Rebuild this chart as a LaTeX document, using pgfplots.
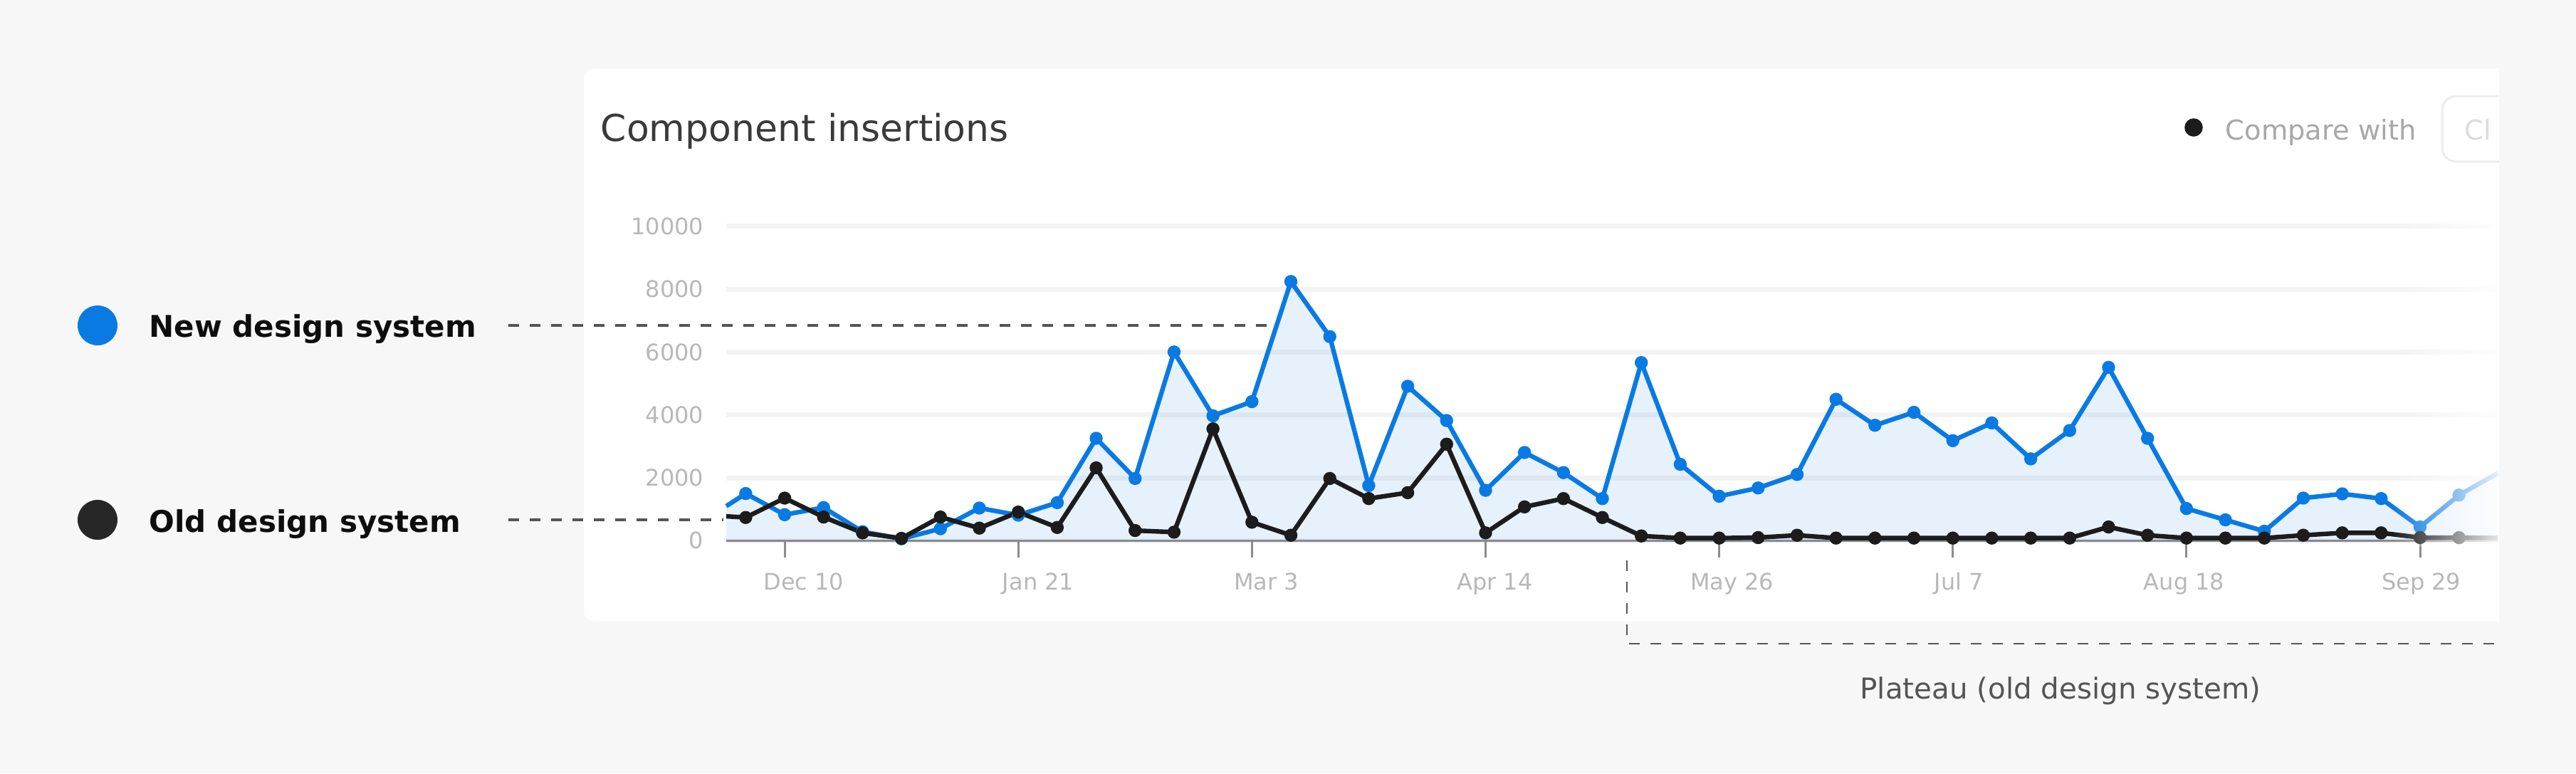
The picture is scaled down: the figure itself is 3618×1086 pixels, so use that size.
\documentclass[border=0pt]{standalone}
\usepackage{fontspec}
\setmainfont{DejaVu Sans}
\usepackage{pgfplots}
\pgfplotsset{compat=1.18}
\usepackage{pgfplotstable}
\usetikzlibrary{fadings}
\definecolor{bg}{HTML}{F7F7F7}
\definecolor{blueC}{HTML}{0A7AE3}
\definecolor{blackC}{HTML}{1C1C1C}
\definecolor{gridC}{HTML}{F3F3F3}
\definecolor{axisC}{HTML}{8C8C8C}
\definecolor{tickC}{HTML}{B8B8B8}
\definecolor{dashC}{HTML}{555555}
\definecolor{titleC}{HTML}{3A3A3A}
\definecolor{cmpC}{HTML}{A8A8A8}
\definecolor{btnC}{HTML}{EDEDED}
\definecolor{btnTextC}{HTML}{DCDCDC}
\tikzfading[name=fadeR, left color=transparent!100, right color=transparent!10]

% k = weeks after Dec 10; new / old design system insertions
\pgfplotstableread{
k new old
-1.5 1098 775
-1 1500 737
0 827 1354
1 1053 752
2 286 248
3 60 75
4 380 752
5 1038 399
6 812 910
7 1210 420
8 3256 2316
9 1978 323
10 6001 271
11 3971 3557
12 4422 587
13 8242 173
14 6490 1978
15 1752 1339
16 4911 1527
17 3820 3068
18 1602 248
19 2805 1075
20 2166 1339
21 1339 737
22 5663 150
23 2429 83
24 1414 83
25 1677 98
26 2106 173
27 4497 83
28 3670 83
29 4083 83
30 3181 83
31 3745 83
32 2602 83
33 3504 83
34 5512 436
35 3256 173
36 1023 83
37 662 83
38 301 83
39 1354 173
40 1489 248
41 1339 248
42 436 98
43 1450 97
44 2150 90
}\insdata

\begin{document}
\begin{tikzpicture}[x=0.25pt,y=-0.25pt]
% background and card
\fill[bg] (0,0) rectangle (3618,1086);
\fill[white, rounded corners=4pt] (820,96) rectangle (3580,873);
\draw[btnC, line width=0.75pt, rounded corners=5pt] (3430,135) rectangle (3600,227);
\node[anchor=base west, inner sep=0pt, font=\fontsize{9.6}{11}\selectfont, text=btnTextC] at (3461,196) {Cl};
\fill[bg] (3510,0) rectangle (3618,1086);

% title and compare legend
\node[anchor=base west, inner sep=0pt, font=\fontsize{13}{15}\selectfont, text=titleC] at (843,198) {Component insertions};
\fill[blackC] (3081,179) circle[radius=3.2pt];
\node[anchor=base west, inner sep=0pt, font=\fontsize{9.6}{11}\selectfont, text=cmpC] at (3125,196) {Compare with};

\coordinate (O) at (1020,759.3);
\begin{axis}[
  at={(O)}, anchor=south west,
  scale only axis, width=622.1pt, height=110.4pt,
  xmin=-1.5, xmax=44, ymin=0, ymax=10000,
  clip=false,
  axis x line*=bottom, axis y line*=left,
  x axis line style={draw=axisC, line width=0.75pt},
  y axis line style={draw=none},
  xtick={0,6,...,42}, xticklabel={\relax},
  ytick={0,2000,...,10000},
  tick align=outside, major tick length=6pt,
  xtick style={draw=axisC, line width=0.75pt},
  ytick style={draw=none},
  ymajorgrids, grid style={draw=gridC, line width=1.75pt},
  scaled y ticks=false,
  /pgf/number format/1000 sep={},
  /pgf/number format/assume math mode=true,
  yticklabel style={font=\fontsize{8}{9.6}\selectfont, text=tickC, inner sep=0pt, xshift=-1.75pt},
]
\addplot[draw=none, fill=blueC, fill opacity=0.1, forget plot] table[x=k,y=new]{\insdata} \closedcycle;
\addplot[blueC, line width=1.6pt, line join=round, mark=none] table[x=k,y=new]{\insdata};
\addplot[blueC, only marks, mark=*, mark size=2.1pt, restrict x to domain=-1:43] table[x=k,y=new]{\insdata};
\addplot[blackC, line width=1.6pt, line join=round, mark=none] table[x=k,y=old]{\insdata};
\addplot[blackC, only marks, mark=*, mark size=2.1pt, restrict x to domain=-1:43] table[x=k,y=old]{\insdata};

\node[anchor=base, inner sep=0pt, text=tickC, font=\fontsize{8}{9.6}\selectfont, yshift=-17.2pt] at (axis cs:0.49,0) {Dec 10};
\node[anchor=base, inner sep=0pt, text=tickC, font=\fontsize{8}{9.6}\selectfont, yshift=-17.2pt] at (axis cs:6.51,0) {Jan 21};
\node[anchor=base, inner sep=0pt, text=tickC, font=\fontsize{8}{9.6}\selectfont, yshift=-17.2pt] at (axis cs:12.37,0) {Mar 3};
\node[anchor=base, inner sep=0pt, text=tickC, font=\fontsize{8}{9.6}\selectfont, yshift=-17.2pt] at (axis cs:18.24,0) {Apr 14};
\node[anchor=base, inner sep=0pt, text=tickC, font=\fontsize{8}{9.6}\selectfont, yshift=-17.2pt] at (axis cs:24.33,0) {May 26};
\node[anchor=base, inner sep=0pt, text=tickC, font=\fontsize{8}{9.6}\selectfont, yshift=-17.2pt] at (axis cs:30.16,0) {Jul 7};
\node[anchor=base, inner sep=0pt, text=tickC, font=\fontsize{8}{9.6}\selectfont, yshift=-17.2pt] at (axis cs:35.94,0) {Aug 18};
\node[anchor=base, inner sep=0pt, text=tickC, font=\fontsize{8}{9.6}\selectfont, yshift=-17.2pt] at (axis cs:42.03,0) {Sep 29};
\end{axis}

% fade at the right edge
\fill[white, path fading=fadeR] (3360,300) rectangle (3510,768);

% left annotations
\fill[blueC] (137,457) circle[radius=7pt];
\node[anchor=base west, inner sep=0pt, font=\bfseries\fontsize{10.5}{12}\selectfont, text=black!95] at (209,473) {New design system};
\draw[dashC, line width=0.8pt, dash pattern=on 3.75pt off 3.75pt] (714,457) -- (1782,457);
\fill[blackC!95] (137,730) circle[radius=7pt];
\node[anchor=base west, inner sep=0pt, font=\bfseries\fontsize{10.5}{12}\selectfont, text=black!95] at (209,747) {Old design system};
\draw[dashC, line width=0.8pt, dash pattern=on 3.75pt off 3.75pt] (714,730) -- (1016,730);

% plateau bracket
\draw[dashC, line width=0.6pt, dash pattern=on 3.75pt off 3.75pt] (2285,787) -- (2285,904) -- (3510,904);
\node[anchor=base, inner sep=0pt, font=\fontsize{10.1}{12}\selectfont, text=dashC] at (2894,981) {Plateau (old design system)};

\pgfresetboundingbox
\useasboundingbox (0,0) rectangle (3618,1086);
\end{tikzpicture}
\end{document}
